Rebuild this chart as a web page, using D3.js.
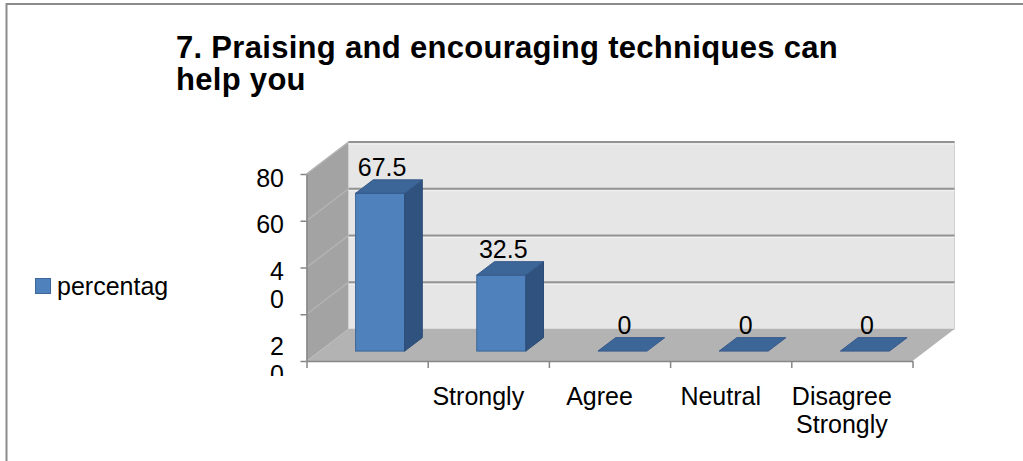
<!DOCTYPE html>
<html>
<head>
<meta charset="utf-8">
<script src="https://d3js.org/d3.v7.min.js"></script>
<style>
body { margin: 0; background: #fff; }
text { font-family: Arial, "Liberation Sans", sans-serif; fill: #000; }
</style>
</head>
<body>
<div id="chart1"></div>
<script>
var w = 1023;
var h = 461;
var title = ["7. Praising and encouraging techniques can", "help you"];
var seriesName = "percentag";
var categories = [[""], ["Strongly"], ["Agree"], ["Neutral"], ["Disagree", "Strongly"]];
var values = [67.5, 32.5, 0, 0, 0];
var yTicks = [0, 20, 40, 60, 80];
// tick labels as they wrap in the picture
var yTickLines = [[], ["", "2", "0"], ["4", "0"], ["60"], ["80"]];

var svg1;
// front plane of the 3d box
var x0 = 306.5, x1 = 912.5;
var depthX = 42, depthY = 32;
var barFront = 0.31, barBack = 0.73;

var xScale = d3.scaleBand()
               .domain(d3.range(values.length))
               .range([x0, x1])
               .paddingInner(0.595)
               .paddingOuter(0.2975);
var xEdge = d3.scaleLinear()
              .domain([0, values.length])
              .range([x0, x1]);
var yScale = d3.scaleLinear()
               .domain([0, 80])
               .range([361, 174]);

function pts(arr) {
  return arr.map(p => p.join(",")).join(" ");
}

function Walls() {
  var yb = yScale(0), yt = yScale(80);
  //left wall
  svg1.append("polygon")
      .attr("points", pts([[x0, yb], [x0, yt], [x0 + depthX, yt - depthY], [x0 + depthX, yb - depthY]]))
      .attr("fill", "#a3a3a3");
  //back wall
  svg1.append("rect")
      .attr("x", x0 + depthX)
      .attr("y", yt - depthY)
      .attr("width", x1 - x0)
      .attr("height", yb - yt)
      .attr("fill", "#e6e6e6")
      .attr("stroke", "#d0d0d0");
  //floor
  svg1.append("polygon")
      .attr("points", pts([[x0, yb], [x1, yb], [x1 + depthX, yb - depthY], [x0 + depthX, yb - depthY]]))
      .attr("fill", "#b3b3b3");

  //gridlines
  var grid = yTicks.filter(t => t > 0);
  svg1.selectAll(".gridhi")
      .data(grid)
      .enter()
      .append("line")
      .attr("x1", x0 + depthX)
      .attr("x2", x1 + depthX)
      .attr("y1", d => yScale(d) - depthY + 2)
      .attr("y2", d => yScale(d) - depthY + 2)
      .attr("stroke", "#f2f2f2")
      .attr("stroke-width", 1);
  svg1.selectAll(".grid")
      .data(grid)
      .enter()
      .append("line")
      .attr("x1", x0 + depthX)
      .attr("x2", x1 + depthX)
      .attr("y1", d => yScale(d) - depthY)
      .attr("y2", d => yScale(d) - depthY)
      .attr("stroke", "#939393")
      .attr("stroke-width", 2);
  svg1.selectAll(".sidegrid")
      .data(grid)
      .enter()
      .append("line")
      .attr("x1", x0)
      .attr("x2", x0 + depthX)
      .attr("y1", d => yScale(d))
      .attr("y2", d => yScale(d) - depthY)
      .attr("stroke", "#b4b4b4")
      .attr("stroke-width", 1.5);
}

function BarChart() {
  var bw = xScale.bandwidth();
  var kd = barBack - barFront;
  var g = svg1.append("g");
  var bars = g.selectAll("g.bar")
              .data(values)
              .enter()
              .append("g")
              .attr("class", "bar");

  bars.each(function(d, i) {
    var b = d3.select(this);
    var xl = xScale(i) + barFront * depthX;
    var xr = xl + bw;
    var yb = yScale(0) - barFront * depthY;
    var yt = yScale(d) - barFront * depthY;
    var ox = kd * depthX, oy = kd * depthY;
    if (d > 0) {
      b.append("rect")
       .attr("x", xl)
       .attr("y", yt)
       .attr("width", bw)
       .attr("height", yb - yt)
       .attr("fill", "#4f81bd")
       .attr("stroke", "#3d6798")
       .attr("stroke-width", 1);
      b.append("polygon")
       .attr("points", pts([[xr, yb], [xr, yt], [xr + ox, yt - oy], [xr + ox, yb - oy]]))
       .attr("fill", "#30527f")
       .attr("stroke", "#2c4c76")
       .attr("stroke-width", 1);
    }
    b.append("polygon")
     .attr("points", pts([[xl, yt], [xr, yt], [xr + ox, yt - oy], [xl + ox, yt - oy]]))
     .attr("fill", "#3d6698")
     .attr("stroke", "#36598a")
     .attr("stroke-width", 1);
  });

  // Label
  g.selectAll("text")
   .data(values)
   .enter()
   .append("text")
   .attr("x", (d, i) => xScale(i) + barFront * depthX + xScale.bandwidth() / 2 + 2)
   .attr("y", d => yScale(d) - barBack * depthY - 4)
   .attr("text-anchor", "middle")
   .attr("font-size", "25px")
   .text(d => d);
}

function Axes() {
  var yAxis = d3.axisLeft(yScale)
                .tickValues(yTicks)
                .tickSize(6)
                .tickSizeOuter(0)
                .tickFormat("");
  var ya = svg1.append("g")
               .attr("transform", "translate(" + x0 + ",0)")
               .call(yAxis);
  ya.selectAll("path, line").attr("stroke", "#868686").attr("stroke-width", 1.5);

  var xAxis = d3.axisBottom(xEdge)
                .tickValues(d3.range(values.length + 1))
                .tickSize(7)
                .tickSizeOuter(0)
                .tickFormat("");
  var xa = svg1.append("g")
               .attr("transform", "translate(0," + yScale(0) + ")")
               .call(xAxis);
  xa.selectAll("path, line").attr("stroke", "#868686").attr("stroke-width", 1.5);

  //y labels (clipped at the bottom like the picture)
  svg1.append("clipPath")
      .attr("id", "yclip")
      .append("rect")
      .attr("x", 200).attr("y", 150)
      .attr("width", 100).attr("height", 226);
  var yl = svg1.append("g").attr("clip-path", "url(#yclip)");
  yl.selectAll("text")
    .data(yTicks)
    .enter()
    .append("text")
    .attr("text-anchor", "end")
    .attr("font-size", "25px")
    .each(function(d, i) {
      var t = d3.select(this);
      yTickLines[i].forEach((s, j) => {
        t.append("tspan")
         .attr("x", 284)
         .attr("y", yScale(d) + 12.5 + j * 28)
         .text(s);
      });
    });

  //x labels
  svg1.selectAll(".xlab")
      .data(categories)
      .enter()
      .append("text")
      .attr("class", "xlab")
      .attr("text-anchor", "middle")
      .attr("font-size", "25px")
      .each(function(d, i) {
        var t = d3.select(this);
        d.forEach((s, j) => {
          t.append("tspan")
           .attr("x", xScale(i) + xScale.bandwidth() / 2 - 10)
           .attr("y", 405 + j * 28)
           .text(s);
        });
      });
}

function Legend() {
  svg1.append("rect")
      .attr("x", 35.5)
      .attr("y", 278.5)
      .attr("width", 15)
      .attr("height", 15)
      .attr("fill", "#4f81bd")
      .attr("stroke", "#3d6798");
  svg1.append("text")
      .attr("x", 57)
      .attr("y", 295)
      .attr("font-size", "25px")
      .text(seriesName);
}

function Title() {
  svg1.selectAll(".title")
      .data(title)
      .enter()
      .append("text")
      .attr("class", "title")
      .attr("x", 176)
      .attr("y", (d, i) => 58 + i * 32)
      .attr("font-size", "31px")
      .attr("font-weight", "bold")
      .attr("letter-spacing", "0.3px")
      .text(d => d);
}

function main(){
  svg1 = d3.select("#chart1")
           .append("svg")
           .attr("width", w)
           .attr("height", h);
  //frame
  svg1.append("path")
      .attr("d", "M6.5," + h + " V4 H" + w)
      .attr("fill", "none")
      .attr("stroke", "#8c8c8c")
      .attr("stroke-width", 2);
  Title();
  Walls();
  BarChart();
  Axes();
  Legend();
}

window.onload = function() {
  main();
};
</script>
</body>
</html>
